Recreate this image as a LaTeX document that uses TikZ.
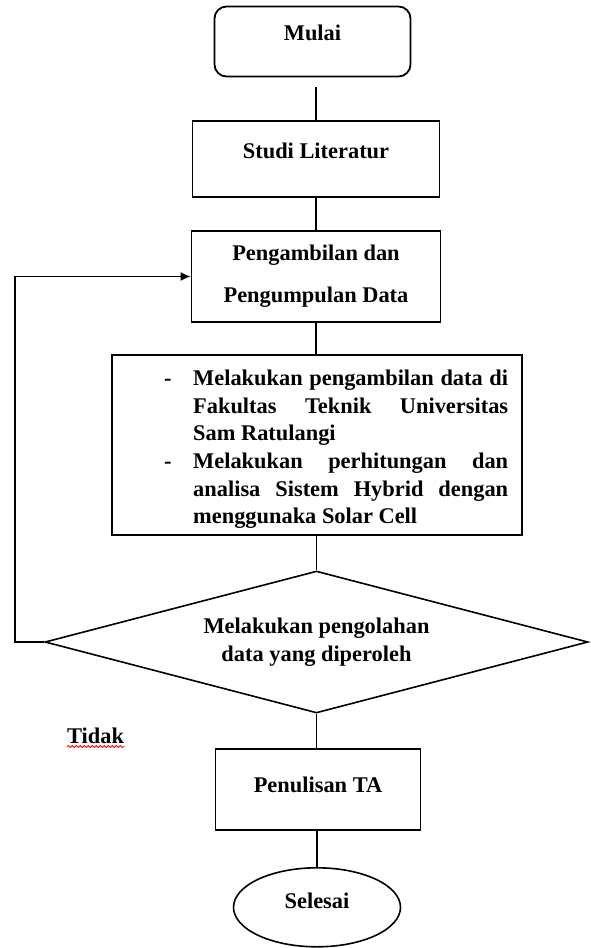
\documentclass[tikz,border=0pt]{standalone}
\usepackage{fontspec}
\setmainfont{Liberation Serif}
\usetikzlibrary{shapes.geometric,arrows.meta,decorations.pathmorphing}
\newcommand\liftup[2]{\raisebox{#1}[\height][\depth]{#2}}
\newcommand\dashitem[1]{\noindent\hangindent=29pt\hangafter=1\makebox[29pt][l]{-}#1\par}
\begin{document}
\begin{tikzpicture}[x=1pt,y=-1pt,
  every node/.style={font=\bfseries\fontsize{22.4}{28}\selectfont, inner sep=0pt, text=black},
  boxshape/.style={draw, rectangle, line width=1.8pt},
  conn/.style={line width=1.6pt}]
\useasboundingbox (0,0) rectangle (591,948);

\node[draw, line width=1.8pt, rounded corners=12pt, minimum width=196, minimum height=70] (mulai) at (312.5,41.5) {\liftup{9pt}{Mulai}};
\node[boxshape, minimum width=247, minimum height=76] (studi) at (316,159) {\liftup{7.7pt}{Studi Literatur}};
\node[boxshape, minimum width=249, minimum height=91, align=center] (ambil) at (316,276.5) {Pengambilan dan\\[14pt]Pengumpulan Data};
\node[boxshape, minimum width=410, minimum height=180] (det) at (316.6,445) {};
\node[anchor=north west] (dettext) at (164,370) {\parbox{344pt}{\baselineskip=27.6pt\tolerance=10000\hyphenpenalty=10000
\dashitem{Melakukan pengambilan data di\linebreak Fakultas Teknik Universitas\linebreak Sam Ratulangi}
\dashitem{Melakukan perhitungan dan\linebreak analisa Sistem Hybrid dengan\linebreak menggunaka Solar Cell}}};
\node[draw, diamond, aspect=3.82, minimum width=543, minimum height=142, align=center, line width=1.6pt] (dia) at (316.5,642) {Melakukan pengolahan\\data yang diperoleh};
\node[boxshape, minimum width=205, minimum height=81] (tulis) at (318,789.5) {\liftup{5pt}{Penulisan TA}};
\node[draw, ellipse, minimum width=167, minimum height=79, line width=1.6pt] (selesai) at (317,907.3) {\liftup{6pt}{Selesai}};
\node[anchor=base west] (tidak) at (67,743) {Tidak};

\draw[conn, shorten <=10pt] (mulai.south -| studi.north) -- (studi.north);
\draw[conn] (studi.south) -- (ambil.north);
\draw[conn] (ambil.south) -- (det.north -| ambil.south);
\draw[conn] (det.south -| dia.north) -- (dia.north);
\draw[conn] (dia.south) -- (tulis.north -| dia.south);
\draw[conn] (tulis.south -| selesai.north) -- (selesai.north);
\coordinate (loopc) at (15,642);
\draw[conn, -{Latex[length=10pt,width=9pt]}] (dia.west) -- (loopc) |- (ambil.west);
\draw[red, line width=0.8pt, decorate, decoration={snake, amplitude=1.1pt, segment length=4pt}]
  ([yshift=-3.5pt]tidak.base west) -- ([yshift=-3.5pt]tidak.base east);
\end{tikzpicture}
\end{document}
